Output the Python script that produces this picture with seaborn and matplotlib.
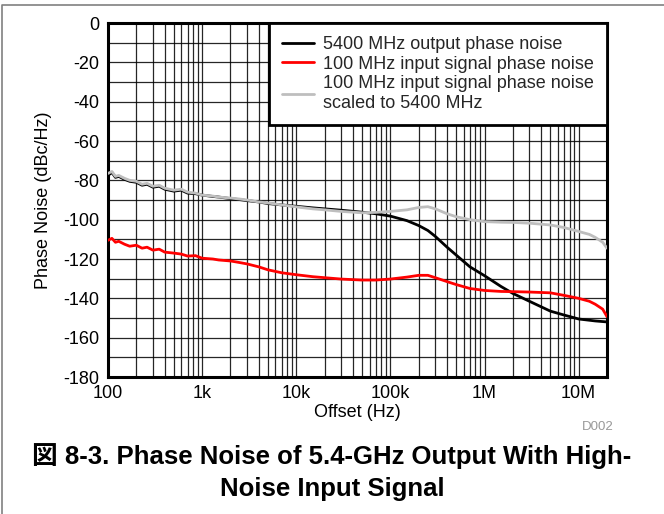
import numpy as np
import pandas as pd
import matplotlib
matplotlib.use("Agg")
import matplotlib.pyplot as plt
import matplotlib.ticker as mticker
from matplotlib.lines import Line2D
import seaborn as sns

# ---- data ----
freq_out = [100, 110, 120, 130, 150, 170, 200, 230, 260, 300, 350, 400, 500, 600, 700, 850,
            1000, 1300, 1500, 2000, 2500, 3000, 4000, 5000, 7000, 10e3, 15e3, 20e3, 30e3,
            50e3, 70e3, 100e3, 150e3, 200e3, 250e3, 300e3, 400e3, 500e3, 700e3, 1e6,
            1.5e6, 2e6, 3e6, 5e6, 7e6, 10e6, 15e6, 20e6]
pn_out = [-77.5, -76.0, -78.5, -78.0, -79.5, -80.5, -81.0, -82.5, -82.0, -83.5, -83.0, -84.5,
          -85.5, -85.0, -86.5, -86.8, -87.5, -88.2, -88.5, -89.3, -89.8, -90.3, -91.0, -91.8,
          -92.5, -93.2, -94.0, -94.5, -95.2, -96.2, -97.0, -98.2, -100.5, -103.0, -105.5,
          -108.5, -114.0, -118.0, -124.0, -128.5, -134.0, -137.5, -141.5, -146.5, -148.5,
          -150.5, -151.5, -152.0]

freq_in = [100, 110, 120, 130, 150, 170, 200, 230, 260, 300, 350, 400, 500, 600, 700, 850,
           1000, 1300, 1500, 2000, 2500, 3000, 4000, 5000, 7000, 10e3, 15e3, 20e3, 30e3,
           50e3, 70e3, 100e3, 150e3, 200e3, 250e3, 300e3, 400e3, 500e3, 700e3, 1e6,
           1.5e6, 2e6, 3e6, 5e6, 7e6, 10e6, 13e6, 15e6, 18e6, 20e6]
pn_in = [-110.5, -109.5, -111.5, -111.0, -112.5, -113.5, -113.0, -114.5, -114.0, -115.5,
         -115.0, -116.5, -117.0, -117.5, -118.5, -118.3, -119.6, -120.0, -120.5, -121.0,
         -121.8, -122.5, -124.0, -125.5, -127.0, -128.0, -129.0, -129.5, -130.2, -130.7,
         -130.7, -130.2, -129.2, -128.3, -128.3, -129.5, -131.5, -133.0, -135.0, -136.0,
         -136.5, -136.6, -136.8, -137.2, -138.5, -140.0, -141.5, -143.0, -145.5, -149.3]

freq_sc = [100, 110, 120, 130, 150, 170, 200, 230, 260, 300, 350, 400, 500, 600, 700, 850,
           1000, 1300, 1500, 2000, 2500, 3000, 4000, 5000, 7000, 10e3, 15e3, 20e3, 30e3,
           50e3, 70e3, 100e3, 150e3, 200e3, 250e3, 300e3, 400e3, 500e3, 700e3, 1e6,
           1.5e6, 2e6, 3e6, 5e6, 7e6, 10e6, 13e6, 15e6, 18e6, 20e6]
pn_sc = [-76.5, -75.5, -78.0, -77.5, -79.0, -80.0, -80.5, -82.0, -81.5, -83.0, -82.5, -84.0,
         -85.0, -84.5, -86.0, -86.5, -87.5, -88.0, -88.5, -89.0, -89.5, -90.0, -91.0, -91.5,
         -92.5, -93.5, -94.5, -95.0, -95.8, -96.5, -96.3, -95.8, -95.0, -93.8, -93.4, -94.5,
         -97.0, -98.5, -100.0, -101.0, -101.3, -101.4, -101.8, -102.7, -104.0, -106.0,
         -107.5, -109.0, -111.5, -114.5]

labels = ["5400 MHz output phase noise",
          "100 MHz input signal phase noise",
          "100 MHz input signal phase noise\nscaled to 5400 MHz"]
colors = ["#000000", "#FF0000", "#BEBEBE"]

xtick_vals = [100, 1e3, 1e4, 1e5, 1e6, 1e7]
xtick_labels = ["100", "1k", "10k", "100k", "1M", "10M"]
ytick_vals = [0, -20, -40, -60, -80, -100, -120, -140, -160, -180]

# ---- style ----
sns.set_theme(style="white")
plt.rcParams['font.family'] = ['Liberation Sans', 'Noto Sans CJK JP', 'DejaVu Sans']
FS = 13

fig = plt.figure(figsize=(6.64, 5.14), dpi=100)
ax = fig.add_axes([108/664, 1-377/514, (607-108)/664, (377-23)/514])
ax.set_xscale('log')

series = [(freq_out, pn_out), (freq_in, pn_in), (freq_sc, pn_sc)]
zorders = {0: 3, 1: 4, 2: 5}
for i in [0, 1, 2]:
    f, v = series[i]
    sns.lineplot(x=f, y=v, ax=ax, color=colors[i], lw=2.0, sort=False,
                 estimator=None, legend=False, zorder=zorders[i])

ax.set_xlim(100, 20e6)
ax.set_ylim(-180, 0)
ax.xaxis.set_major_locator(mticker.FixedLocator(xtick_vals))
ax.xaxis.set_major_formatter(mticker.FixedFormatter(xtick_labels))
ax.xaxis.set_minor_locator(mticker.LogLocator(base=10, subs=np.arange(2, 10), numticks=20))
ax.xaxis.set_minor_formatter(mticker.NullFormatter())
ax.set_yticks(ytick_vals)
ax.set_yticklabels([str(v) for v in ytick_vals])
ax.yaxis.set_minor_locator(mticker.MultipleLocator(10))

ax.grid(True, which='both', color='#000000', lw=0.9, alpha=0.85)
ax.set_axisbelow(True)
ax.tick_params(axis='both', which='both', length=0, labelsize=FS, colors='#000000')
ax.tick_params(axis='y', pad=6)
ax.tick_params(axis='x', pad=6)
for s in ax.spines.values():
    s.set_color('#000000')
    s.set_linewidth(2.2)

ax.set_xlabel("Offset (Hz)", fontsize=FS, color='#000000', labelpad=1)
ax.set_ylabel("Phase Noise (dBc/Hz)", fontsize=FS, color='#000000', labelpad=8)

handles = [Line2D([0], [0], color=c, lw=2.0) for c in colors]
leg = ax.legend(handles, labels, loc='upper right', borderaxespad=0.0, fontsize=FS,
                frameon=True, fancybox=False, framealpha=1.0, edgecolor='#000000',
                handlelength=1.8, handletextpad=0.5, labelspacing=0.14,
                borderpad=0.72)
for t in leg.get_texts():
    t.set_linespacing(1.2)
leg.get_frame().set_linewidth(2.0)
leg.set_zorder(10)

fig.text(598/664, 1-427/514, "D002", fontsize=9.5, color='#999999', ha='center', va='center')
fig.text(0.5, 1-472/514, "図 8-3. Phase Noise of 5.4-GHz Output With High-\nNoise Input Signal",
         fontsize=18.5, fontweight='bold', ha='center', va='center', linespacing=1.4,
         color='#000000')

# outer partial frame (top and left)
fig.add_artist(Line2D([2/664, 2/664, 1.0], [0.0, 1-5/514, 1-5/514],
                      transform=fig.transFigure, color='#808080', lw=1.2))

fig.savefig("out.png", dpi=100)
